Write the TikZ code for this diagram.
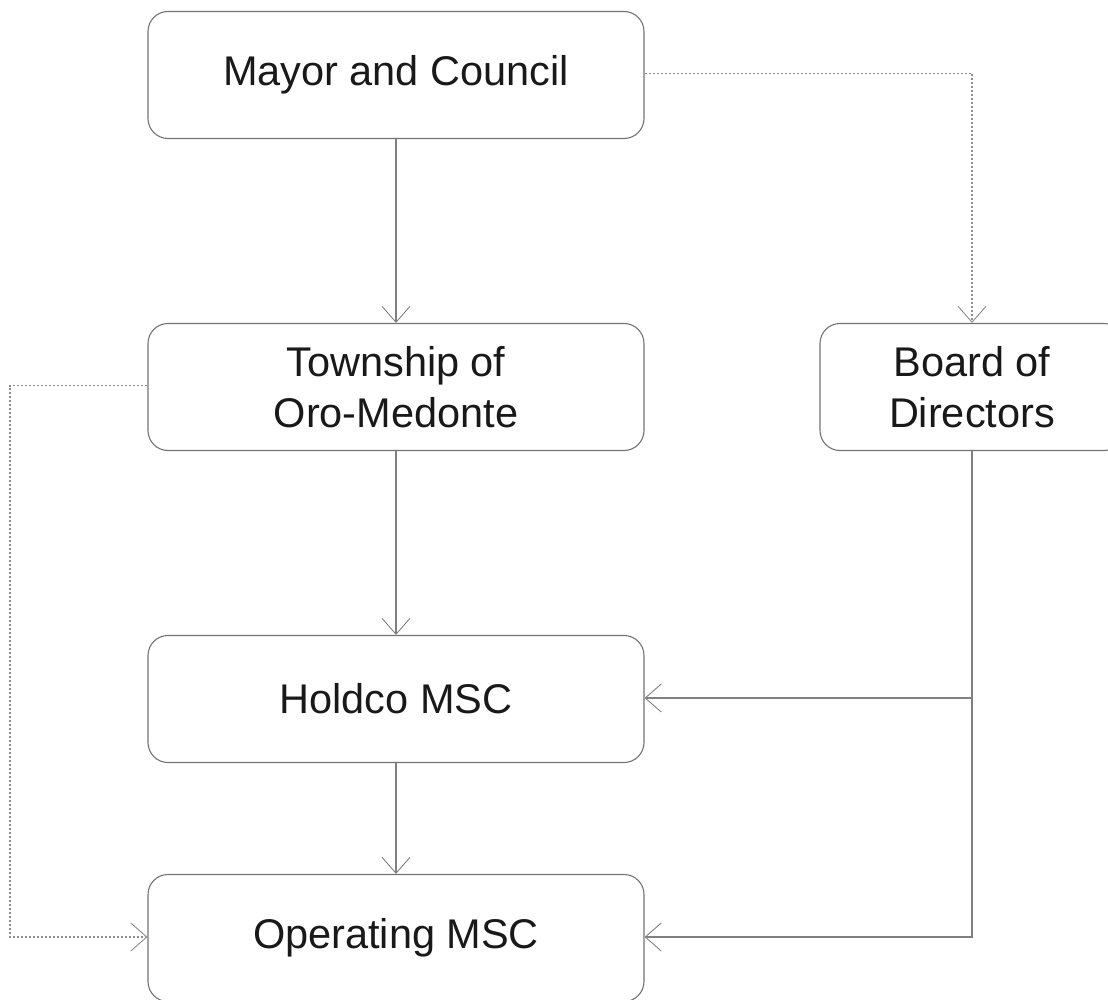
\documentclass[tikz,border=0pt]{standalone}
\usepackage{fontspec}
\setmainfont{Liberation Sans}
\usetikzlibrary{arrows.meta}
\begin{document}
\begin{tikzpicture}[x=1pt,y=-1pt,
  box/.style={draw=black!55, line width=1.1pt, rounded corners=20pt, minimum width=496pt, minimum height=127pt, inner sep=0pt, align=center, font=\fontsize{41.5}{51}\selectfont, text=black!90},
  conn/.style={draw=black!50, line width=1.2pt},
  dotconn/.style={draw=black!45, line width=1.6pt, dash pattern=on 2.4pt off 1.6pt},
  tip/.style={-{Straight Barb[length=16pt,width=28pt,line width=0.9pt]}}
]
\useasboundingbox (0,0) rectangle (1108,1000);
\clip (0,0) rectangle (1108,1000);
\node[box] (mayor) at (396,75) {Mayor and Council};
\node[box] (town) at (396,387) {Township of\\Oro-Medonte};
\node[box, minimum width=304pt] (board) at (972,387) {Board of\\Directors};
\node[box] (hold) at (396,699) {Holdco MSC};
\node[box] (oper) at (396,938) {Operating MSC};
\coordinate (mr) at (972,73.5);
\coordinate (tl) at (10,385.5);
\coordinate (bl) at (10,937);
\coordinate (jh) at (972,698);
\coordinate (jo) at (972,937);
\draw[conn,tip] (mayor.south) -- (town.north);
\draw[conn,tip] (town.south) -- (hold.north);
\draw[conn,tip] (hold.south) -- (oper.north);
\draw[dotconn,tip] (mayor.east |- mr) -- (mr) -- (board.north);
\draw[dotconn,tip] (town.west |- tl) -- (tl) -- (bl) -- (oper.west |- bl);
\draw[conn] (board.south) -- (jh);
\draw[conn,tip] (jh) -- (hold.east |- jh);
\draw[conn,tip] (jh) -- (jo) -- (oper.east |- jo);
\end{tikzpicture}
\end{document}
